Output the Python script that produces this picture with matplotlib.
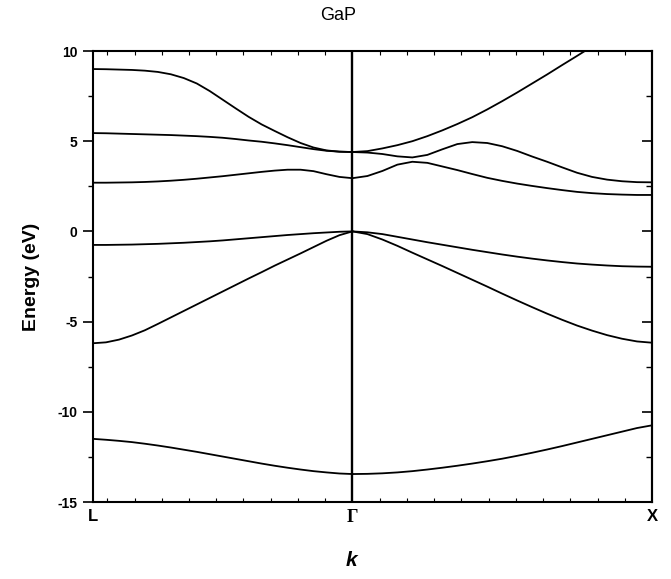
import numpy as np
import matplotlib
matplotlib.use("Agg")
import matplotlib.pyplot as plt
from matplotlib.ticker import FixedLocator, MultipleLocator

plt.rcParams['font.family'] = ['Liberation Sans', 'DejaVu Sans']
plt.rcParams['axes.unicode_minus'] = False

# high-symmetry points along the path L -> Gamma -> X (units of 2*pi/a)
k_L, k_G, k_X = 0.0, 0.866, 1.866
sym_labels = ['L', 'Γ', 'X']

# fractional position along each segment where the energies were sampled
frac = [0.00, 0.05, 0.10, 0.15, 0.20, 0.25, 0.30, 0.35, 0.40, 0.45, 0.50,
        0.55, 0.60, 0.65, 0.70, 0.75, 0.80, 0.85, 0.90, 0.95, 1.00]

# energies (eV) on the L -> Gamma segment
lg_band1 = [-11.50, -11.55, -11.61, -11.68, -11.77, -11.87, -11.98, -12.10, -12.22, -12.35, -12.48,
            -12.61, -12.74, -12.87, -12.99, -13.10, -13.20, -13.29, -13.36, -13.42, -13.45]
lg_band2 = [-6.20, -6.15, -6.00, -5.77, -5.48, -5.13, -4.77, -4.41, -4.05, -3.69, -3.33,
            -2.97, -2.61, -2.26, -1.90, -1.56, -1.22, -0.87, -0.52, -0.21, 0.00]
lg_band3 = [-0.75, -0.75, -0.74, -0.73, -0.71, -0.69, -0.66, -0.63, -0.59, -0.55, -0.50,
            -0.44, -0.38, -0.32, -0.26, -0.20, -0.15, -0.10, -0.06, -0.02, 0.00]
lg_band4 = [2.70, 2.70, 2.71, 2.72, 2.74, 2.77, 2.81, 2.86, 2.92, 2.99, 3.06,
            3.14, 3.22, 3.30, 3.37, 3.42, 3.42, 3.34, 3.17, 3.02, 2.95]
lg_band5 = [5.45, 5.44, 5.42, 5.40, 5.38, 5.36, 5.34, 5.31, 5.28, 5.24, 5.19,
            5.12, 5.04, 4.97, 4.88, 4.78, 4.67, 4.56, 4.47, 4.42, 4.40]
lg_band6 = [9.00, 8.99, 8.97, 8.95, 8.91, 8.84, 8.71, 8.50, 8.20, 7.78, 7.30,
            6.82, 6.35, 5.93, 5.57, 5.22, 4.90, 4.65, 4.49, 4.42, 4.40]

# energies (eV) on the Gamma -> X segment
gx_band1 = [-13.45, -13.44, -13.41, -13.36, -13.29, -13.20, -13.10, -12.99, -12.87, -12.74, -12.60,
            -12.44, -12.27, -12.09, -11.90, -11.70, -11.50, -11.30, -11.10, -10.90, -10.75]
gx_band2 = [0.00, -0.15, -0.45, -0.80, -1.18, -1.55, -1.92, -2.30, -2.68, -3.06, -3.45,
            -3.83, -4.20, -4.56, -4.90, -5.22, -5.50, -5.75, -5.95, -6.10, -6.17]
gx_band3 = [0.00, -0.05, -0.15, -0.30, -0.45, -0.60, -0.74, -0.88, -1.02, -1.15, -1.28,
            -1.40, -1.51, -1.61, -1.70, -1.78, -1.84, -1.89, -1.93, -1.95, -1.96]
gx_band4 = [2.95, 3.07, 3.35, 3.70, 3.86, 3.80, 3.60, 3.40, 3.18, 2.97, 2.80,
            2.65, 2.52, 2.40, 2.29, 2.19, 2.12, 2.07, 2.04, 2.02, 2.02]
gx_band5 = [4.40, 4.37, 4.29, 4.16, 4.10, 4.24, 4.55, 4.84, 4.95, 4.90, 4.72,
            4.46, 4.15, 3.86, 3.55, 3.25, 3.02, 2.87, 2.78, 2.73, 2.72]
gx_band6 = [4.40, 4.45, 4.60, 4.78, 5.00, 5.28, 5.60, 5.95, 6.33, 6.76, 7.22,
            7.70, 8.20, 8.70, 9.22, 9.73, 10.25, 10.75, 11.25, 11.75, 12.25]

lg_bands = [lg_band1, lg_band2, lg_band3, lg_band4, lg_band5, lg_band6]
gx_bands = [gx_band1, gx_band2, gx_band3, gx_band4, gx_band5, gx_band6]

f = np.array(frac)
k_lg = k_L + f * (k_G - k_L)
k_gx = k_G + f * (k_X - k_G)

fig = plt.figure(figsize=(6.71, 5.79), dpi=100)
ax = fig.add_axes([93 / 671, 1 - 502 / 579, 559 / 671, 451 / 579])

for e in lg_bands:
    ax.plot(k_lg, e, color='black', lw=1.3, solid_joinstyle='round')
for e in gx_bands:
    ax.plot(k_gx, e, color='black', lw=1.3, solid_joinstyle='round')

ax.axvline(k_G, color='black', lw=1.7)

ax.set_xlim(k_L, k_X)
ax.set_ylim(-15, 10)

for s in ax.spines.values():
    s.set_linewidth(1.5)

# x axis: symmetry point labels, small minor ticks along top and bottom
ax.set_xticks([k_L, k_G, k_X])
ax.set_xticklabels(sym_labels)
ax.xaxis.set_minor_locator(FixedLocator([k_G + n / 11 for n in range(-9, 12) if n != 0]))
ax.tick_params(axis='x', which='major', length=0, pad=5)
ax.tick_params(axis='x', which='minor', direction='in', length=3, width=0.8,
               top=True, bottom=True)
for lbl in ax.get_xticklabels():
    lbl.set_fontsize(12)
    lbl.set_fontweight('bold')
ax.get_xticklabels()[1].set_family('Liberation Serif')
ax.get_xticklabels()[1].set_fontsize(13)

# y axis: outward ticks on the left, inward ticks on the right
ax.yaxis.set_major_locator(MultipleLocator(5))
ax.yaxis.set_minor_locator(MultipleLocator(2.5))
ax.tick_params(axis='y', which='major', direction='out', length=7, width=1.2, pad=4,
               labelsize=10)
ax.tick_params(axis='y', which='minor', direction='out', length=3.5, width=1.0)
for lbl in ax.get_yticklabels():
    lbl.set_fontweight('bold')

ax_r = ax.secondary_yaxis('right')
ax_r.yaxis.set_major_locator(MultipleLocator(5))
ax_r.yaxis.set_minor_locator(MultipleLocator(2.5))
ax_r.tick_params(which='major', direction='in', length=7, width=1.2, labelright=False)
ax_r.tick_params(which='minor', direction='in', length=4.5, width=1.0)
ax_r.spines['right'].set_linewidth(1.5)

ax.set_ylabel('Energy (eV)', fontsize=14, fontweight='bold', labelpad=13)
fig.text(351 / 671, 1 - 560 / 579, 'k', fontsize=15, fontweight='bold', style='italic',
         ha='center', va='center')
fig.text(338 / 671, 1 - 15 / 579, 'GaP', fontsize=13, ha='center', va='center')

fig.savefig('out.png', dpi=100)
